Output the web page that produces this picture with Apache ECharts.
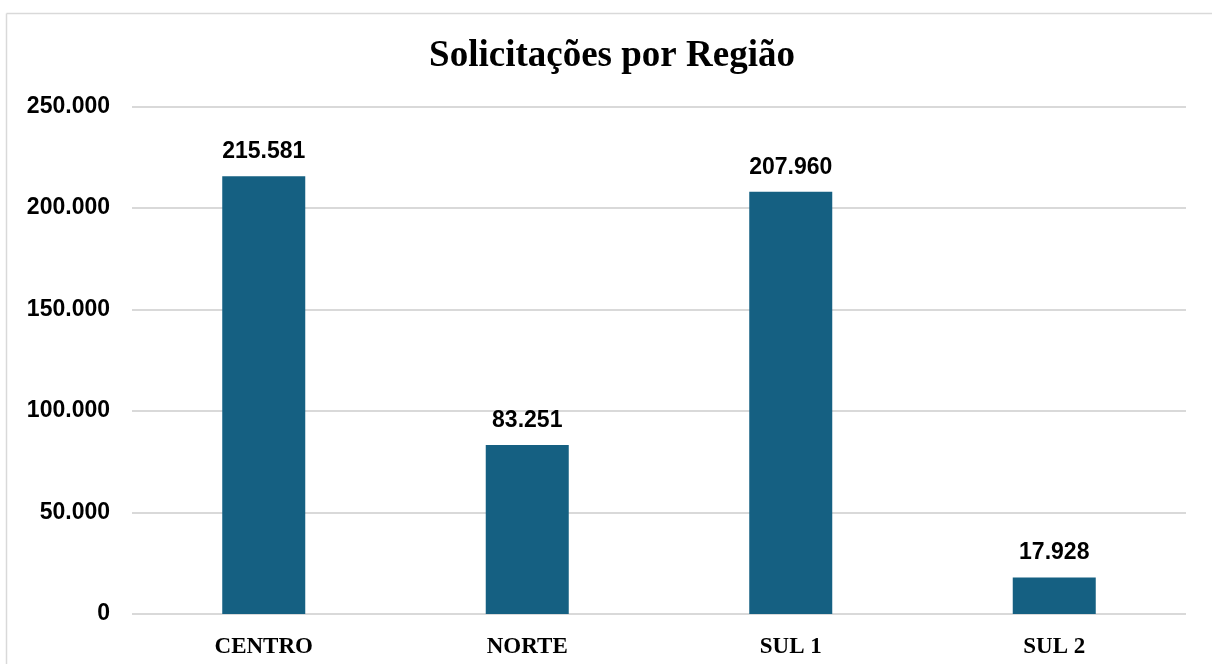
<!DOCTYPE html>
<html>
<head>
<meta charset="utf-8">
<title>Solicitações por Região</title>
<script src="https://cdn.jsdelivr.net/npm/echarts@6/dist/echarts.min.js"></script>
<style>
  html, body { margin: 0; padding: 0; background: #fff; }
  #chart { width: 1212px; height: 664px; }
</style>
</head>
<body>
<div id="chart"></div>
<script>
// dados do gráfico
var regioes = ['CENTRO', 'NORTE', 'SUL 1', 'SUL 2'];
var solicitacoes = [215581, 83251, 207960, 17928];
var eixoY = { min: 0, max: 250000, intervalo: 50000 };

// formata número no padrão brasileiro (ponto como separador de milhar)
function fmt(v) {
  return String(v).replace(/\B(?=(\d{3})+(?!\d))/g, '.');
}

var myChart = echarts.init(document.getElementById('chart'));

myChart.setOption({
  backgroundColor: '#ffffff',
  animation: false,
  title: {
    text: 'Solicitações por Região',
    left: 607,
    textAlign: 'center',
    top: 33,
    textStyle: {
      fontFamily: 'Liberation Serif',
      fontWeight: 'bold',
      fontSize: 37,
      color: '#000'
    }
  },
  // moldura cinza (só borda esquerda e superior aparecem)
  graphic: [
    { type: 'line', shape: { x1: 6.5, y1: 13.5, x2: 1212, y2: 13.5 }, style: { stroke: '#d9d9d9', lineWidth: 1.5 } },
    { type: 'line', shape: { x1: 6.5, y1: 13.5, x2: 6.5, y2: 664 }, style: { stroke: '#d9d9d9', lineWidth: 1.5 } }
  ],
  grid: { left: 132, right: 26, top: 106.5, bottom: 50 },
  xAxis: {
    type: 'category',
    data: regioes,
    axisLine: { show: false },
    axisTick: { show: false },
    axisLabel: {
      margin: 22,
      fontFamily: 'Liberation Serif',
      fontWeight: 'bold',
      fontSize: 23,
      color: '#000'
    }
  },
  yAxis: {
    type: 'value',
    min: eixoY.min,
    max: eixoY.max,
    interval: eixoY.intervalo,
    axisLine: { show: false },
    axisTick: { show: false },
    splitLine: { lineStyle: { color: '#d9d9d9', width: 2 } },
    axisLabel: {
      margin: 22,
      formatter: fmt,
      fontFamily: 'Liberation Sans',
      fontWeight: 'bold',
      fontSize: 23,
      color: '#000'
    }
  },
  series: [{
    type: 'bar',
    data: solicitacoes,
    barWidth: '31.5%',
    itemStyle: { color: '#156082' },
    label: {
      show: true,
      position: 'top',
      distance: 13,
      formatter: function (p) { return fmt(p.value); },
      fontFamily: 'Liberation Sans',
      fontWeight: 'bold',
      fontSize: 23,
      color: '#000'
    }
  }]
});
</script>
</body>
</html>
